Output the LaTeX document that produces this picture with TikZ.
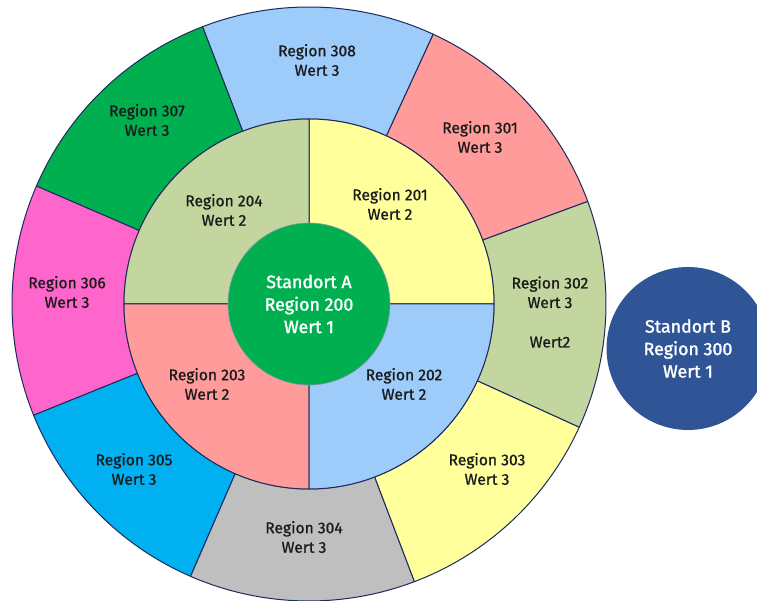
\documentclass[tikz,border=0pt]{standalone}
\usepackage{fontspec}
\setmainfont{Fira Sans}
\newfontfamily\lblfont[FakeBold=0.8]{Fira Sans}
\newfontfamily\bigfont[FakeBold=1.6]{Fira Sans}
\definecolor{lineC}{HTML}{1F2A5C}
\definecolor{cBlue}{HTML}{9DCBFA}
\definecolor{cSalmon}{HTML}{FF9B9B}
\definecolor{cKhaki}{HTML}{C4D6A0}
\definecolor{cYellow}{HTML}{FFFF9B}
\definecolor{cGrey}{HTML}{BFBFBF}
\definecolor{cCyan}{HTML}{00B0F0}
\definecolor{cPink}{HTML}{FF66CC}
\definecolor{cGreen}{HTML}{00B050}
\definecolor{cNavy}{HTML}{2F5597}
\definecolor{txt}{HTML}{1A1A1A}
\begin{document}
\begin{tikzpicture}[x=1pt,y=1pt,
  seg/.style={draw=lineC, line width=1pt, line join=round},
  lbl/.style={align=center, inner sep=0pt, text=txt, font=\lblfont\fontsize{15.6}{19.5}\selectfont},
  big/.style={circle, align=center, inner sep=0pt, text=white, font=\bigfont\fontsize{17.8}{22.5}\selectfont}]
\useasboundingbox (-309,-297) rectangle (448,304);
\clip (-309,-297) rectangle (448,304);
% outer ring
\foreach \a/\b/\c in {20.2/65.3/cSalmon, 65.3/111/cBlue, 111/156.6/cGreen, 156.6/202/cPink, 202/246.5/cCyan, 246.5/290.8/cGrey, 290.8/335.5/cYellow, 335.5/380.2/cKhaki} {
  \filldraw[seg, fill=\c] (\a:185pt) -- (\a:297pt) arc[start angle=\a, end angle=\b, radius=297pt] -- (\b:185pt) arc[start angle=\b, end angle=\a, radius=185pt] -- cycle;
}
% inner ring
\foreach \a/\c in {0/cYellow, 90/cKhaki, 180/cSalmon, 270/cBlue} {
  \filldraw[seg, fill=\c] (0,0) -- (\a:185pt) arc[start angle=\a, delta angle=90, radius=185pt] -- cycle;
}
% centre and Standort B
\node[big, fill=cGreen, draw=lineC!50, line width=0.6pt, minimum size=162pt] (sa) at (0,0) {Standort A\\Region 200\\Wert 1};
\node[big, fill=cNavy, minimum size=163pt] (sb) at (379,-44.5) {Standort B\\Region 300\\Wert 1};
% labels outer ring
\node[lbl] (t308) at (8,244) {Region 308\\Wert 3};
\node[lbl] (t307) at (-162,184) {Region 307\\Wert 3};
\node[lbl] (t306) at (-242,12) {Region 306\\Wert 3};
\node[lbl] (t305) at (-175,-165) {Region 305\\Wert 3};
\node[lbl] (t304) at (-5,-233) {Region 304\\Wert 3};
\node[lbl] (t303) at (178,-165) {Region 303\\Wert 3};
\node[lbl] (t302) at (241,-8) {Region 302\\Wert 3\\[20pt]Wert2};
\node[lbl] (t301) at (171,167) {Region 301\\Wert 3};
% labels inner ring
\node[lbl] (t201) at (81,100) {Region 201\\Wert 2};
\node[lbl] (t204) at (-85,94) {Region 204\\Wert 2};
\node[lbl] (t203) at (-102,-80) {Region 203\\Wert 2};
\node[lbl] (t202) at (95,-80) {Region 202\\Wert 2};
\end{tikzpicture}
\end{document}
